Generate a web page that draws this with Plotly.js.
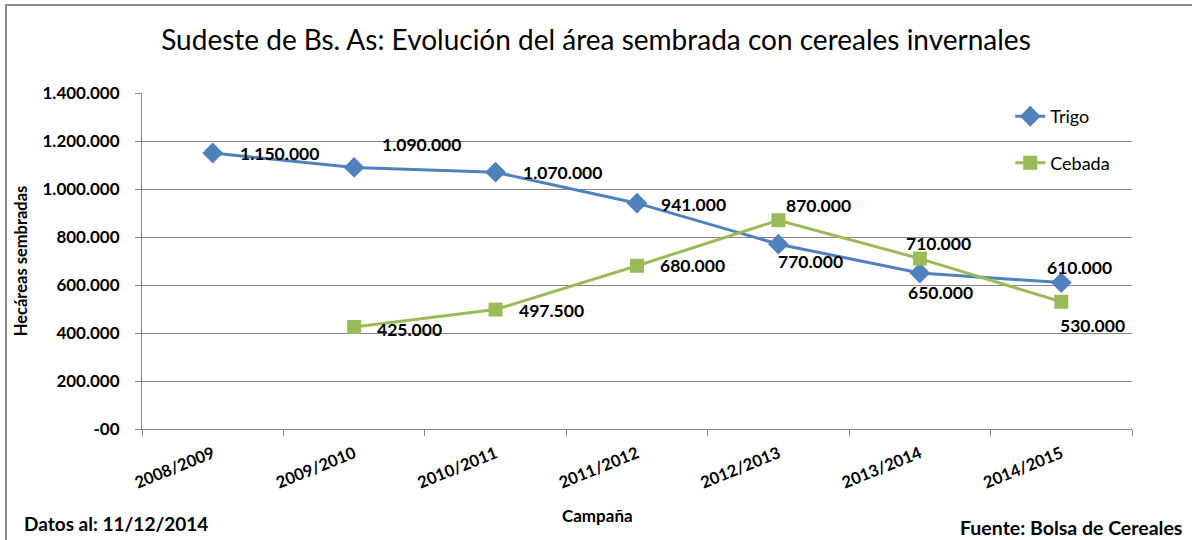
<!DOCTYPE html>
<html>
<head>
<meta charset="utf-8">
<script src="https://cdn.plot.ly/plotly-3.0.1.min.js"></script>
<style>
html,body{margin:0;padding:0;background:#fff;overflow:hidden;}
#chart{position:absolute;left:0;top:0;width:1192px;height:540px;}
#frame{position:absolute;left:5px;top:4px;width:1300px;height:700px;border:2px solid #8e8e8e;pointer-events:none;}
</style>
</head>
<body>
<div id="chart"></div>
<div id="frame"></div>
<script>
const campaigns = ["2008/2009","2009/2010","2010/2011","2011/2012","2012/2013","2013/2014","2014/2015"];
const trigo  = [1150000, 1090000, 1070000, 941000, 770000, 650000, 610000];
const cebada = [null, 425000, 497500, 680000, 870000, 710000, 530000];
const yTickVals = [0, 200000, 400000, 600000, 800000, 1000000, 1200000, 1400000];
const yTickText = ["-00","200.000","400.000","600.000","800.000","1.000.000","1.200.000","1.400.000"];

// label placement (pixel offsets from each point)
const trigoOffsets  = [[25,0],[26,23],[25,0],[22,-1],[-2,-17],[-14,-19],[-16,15]];
const cebadaOffsets = [null,[21,-2],[21,-1],[21,0],[6,15],[-16,15],[-3,-24]];

const FONT = "Lato, 'Liberation Sans', sans-serif";
function fmt(v){ return String(v).replace(/\B(?=(\d{3})+(?!\d))/g, "."); }

const annotations = [];
function addLabels(vals, offs){
  vals.forEach((v,i)=>{
    if(v===null) return;
    annotations.push({x: campaigns[i], y: v, xref:'x', yref:'y', text: fmt(v), showarrow:false,
      xanchor:'left', yanchor:'middle', xshift: offs[i][0], yshift: offs[i][1],
      font:{family:FONT, size:17.5, color:'#000', weight:'bold'}});
  });
}
addLabels(trigo, trigoOffsets);
addLabels(cebada, cebadaOffsets);

annotations.push({xref:'paper', yref:'paper', x:(597-142)/990, y:-(515-429)/336, xanchor:'center', yanchor:'middle',
  text:'Campaña', showarrow:false, font:{family:FONT, size:17, color:'#000', weight:'bold'}});
annotations.push({xref:'paper', yref:'paper', x:(22-142)/990, y:-(523-429)/336, xanchor:'left', yanchor:'middle',
  text:'Datos al: 11/12/2014', showarrow:false, font:{family:FONT, size:19, color:'#000', weight:'bold'}});
annotations.push({xref:'paper', yref:'paper', x:(1184-142)/990, y:-(527-429)/336, xanchor:'right', yanchor:'middle',
  text:'Fuente: Bolsa de Cereales', showarrow:false, font:{family:FONT, size:19.5, color:'#000', weight:'bold'}});

const traces = [
  {x: campaigns, y: trigo, name:'Trigo', type:'scatter', mode:'lines+markers', legendgroup:'t',
   line:{color:'#4F81BD', width:3}, marker:{symbol:'diamond', size:16, color:'#4F81BD'}},
  {x: campaigns, y: cebada, name:'Cebada', type:'scatter', mode:'lines+markers', legendgroup:'c',
   line:{color:'#9BBB59', width:3}, marker:{symbol:'square', size:14, color:'#9BBB59'}}
];

const layout = {
  width:1192, height:540,
  margin:{l:142, r:60, t:93, b:111},
  paper_bgcolor:'#fff', plot_bgcolor:'#fff',
  title:{text:'Sudeste de Bs. As: Evolución del área sembrada con cereales invernales',
    font:{family:FONT, size:28, color:'#000'}, x:0.5, xanchor:'center', y:0.926, yanchor:'middle'},
  showlegend:true,
  legend:{x:0.877, y:0.985, xanchor:'left', yanchor:'top', bgcolor:'rgba(0,0,0,0)',
    tracegroupgap:20, font:{family:FONT, size:18, color:'#000'}},
  xaxis:{type:'category', categoryorder:'array', categoryarray:campaigns, range:[-0.5,6.5],
    showgrid:false, showline:true, linecolor:'#868686', linewidth:1,
    ticks:'outside', tickson:'boundaries', ticklen:6, tickcolor:'#868686', ticklabelstandoff:8,
    tickangle:-22, tickfont:{family:FONT, size:16.5, color:'#000', weight:'bold'}, fixedrange:true},
  yaxis:{range:[0,1400000], tickvals:yTickVals, ticktext:yTickText,
    showgrid:true, gridcolor:'#868686', gridwidth:1, zeroline:false,
    showline:true, linecolor:'#868686', linewidth:1,
    ticks:'outside', ticklen:6, tickcolor:'#868686', ticklabelstandoff:12,
    tickfont:{family:FONT, size:17, color:'#000', weight:'bold'},
    title:{text:'Hecáreas sembradas', standoff:10, font:{family:FONT, size:16.5, color:'#000', weight:'bold'}}},
  annotations: annotations
};

Plotly.newPlot('chart', traces, layout, {displayModeBar:false, staticPlot:true});
</script>
</body>
</html>
